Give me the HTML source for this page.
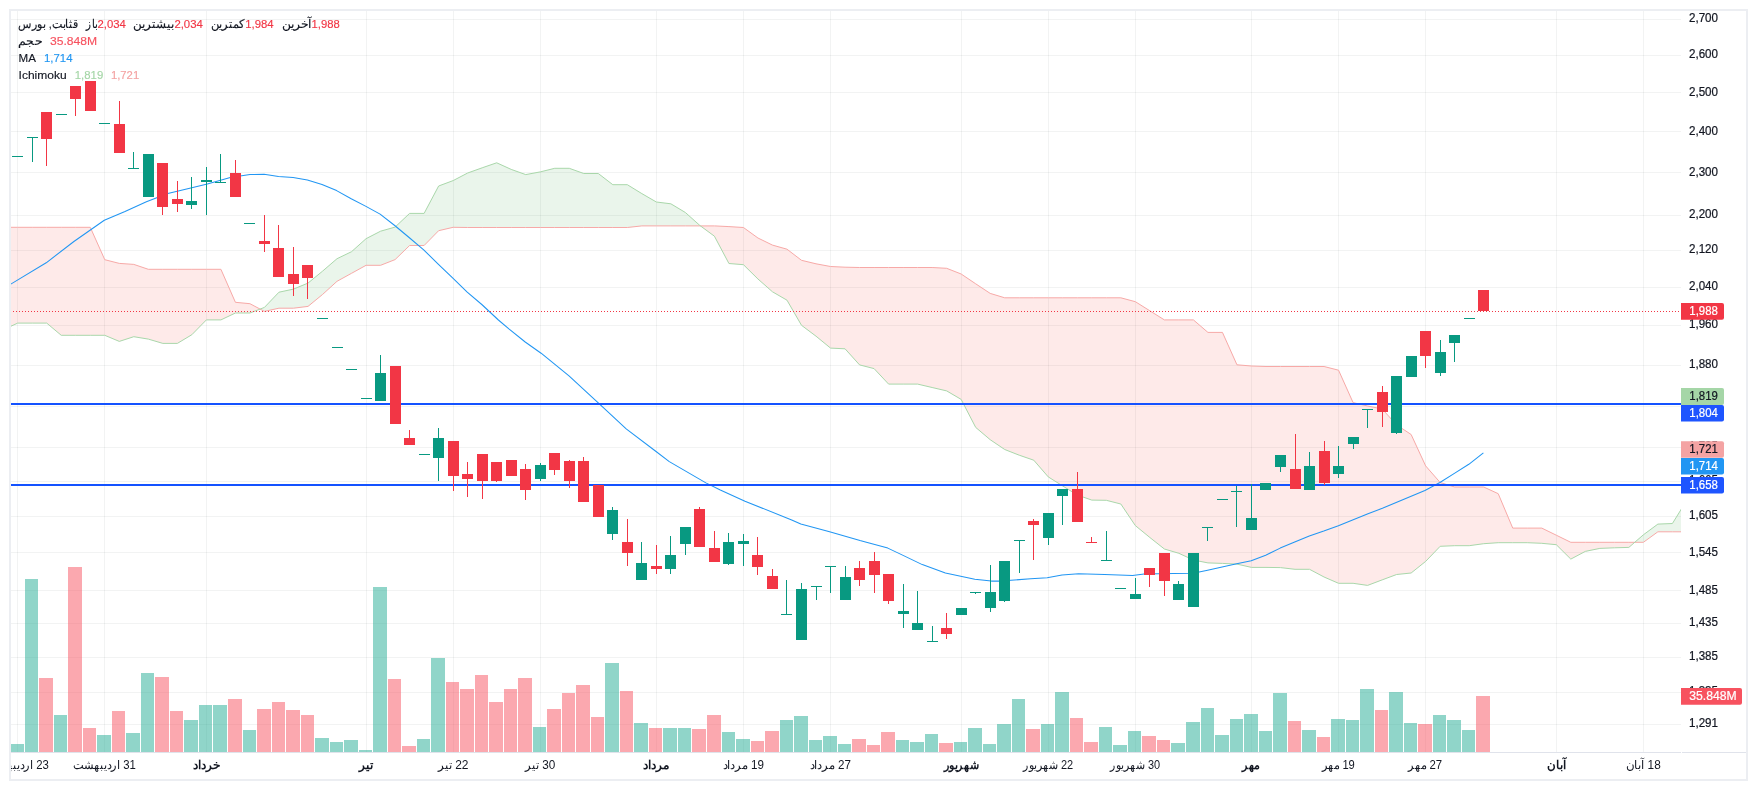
<!DOCTYPE html><html><head><meta charset="utf-8"><title>chart</title><style>
html,body{margin:0;padding:0;background:#fff;width:1757px;height:790px;overflow:hidden}
svg{display:block;position:absolute;left:0;top:0;will-change:transform}
.t{font-family:"Liberation Sans",sans-serif;font-size:12px;fill:#131722} .b{stroke-width:0.22px}
</style></head><body>
<svg width="1757" height="790" viewBox="0 0 1757 790">
<defs><clipPath id="pane"><rect x="11" y="11" width="1670" height="741"/></clipPath></defs>
<rect x="0" y="0" width="1757" height="790" fill="#fff"/>
<g fill="rgba(42,46,57,0.06)" shape-rendering="crispEdges"><rect x="11" y="19" width="1670" height="1"/><rect x="11" y="55" width="1670" height="1"/><rect x="11" y="92" width="1670" height="1"/><rect x="11" y="131" width="1670" height="1"/><rect x="11" y="172" width="1670" height="1"/><rect x="11" y="215" width="1670" height="1"/><rect x="11" y="250" width="1670" height="1"/><rect x="11" y="287" width="1670" height="1"/><rect x="11" y="325" width="1670" height="1"/><rect x="11" y="365" width="1670" height="1"/><rect x="11" y="406" width="1670" height="1"/><rect x="11" y="447" width="1670" height="1"/><rect x="11" y="481" width="1670" height="1"/><rect x="11" y="516" width="1670" height="1"/><rect x="11" y="552" width="1670" height="1"/><rect x="11" y="590" width="1670" height="1"/><rect x="11" y="623" width="1670" height="1"/><rect x="11" y="657" width="1670" height="1"/><rect x="11" y="692" width="1670" height="1"/><rect x="11" y="724" width="1670" height="1"/><rect x="17" y="11" width="1" height="741"/><rect x="104" y="11" width="1" height="741"/><rect x="206" y="11" width="1" height="741"/><rect x="366" y="11" width="1" height="741"/><rect x="453" y="11" width="1" height="741"/><rect x="540" y="11" width="1" height="741"/><rect x="656" y="11" width="1" height="741"/><rect x="743" y="11" width="1" height="741"/><rect x="830" y="11" width="1" height="741"/><rect x="961" y="11" width="1" height="741"/><rect x="1048" y="11" width="1" height="741"/><rect x="1135" y="11" width="1" height="741"/><rect x="1251" y="11" width="1" height="741"/><rect x="1338" y="11" width="1" height="741"/><rect x="1425" y="11" width="1" height="741"/><rect x="1556" y="11" width="1" height="741"/><rect x="1643" y="11" width="1" height="741"/></g>
<g clip-path="url(#pane)">
<g shape-rendering="crispEdges"><rect x="10" y="744" width="14" height="8" fill="rgba(34,171,148,0.5)"/><rect x="25" y="579" width="13" height="173" fill="rgba(34,171,148,0.5)"/><rect x="39" y="678" width="14" height="74" fill="rgba(247,82,95,0.5)"/><rect x="54" y="715" width="13" height="37" fill="rgba(34,171,148,0.5)"/><rect x="68" y="567" width="14" height="185" fill="rgba(247,82,95,0.5)"/><rect x="83" y="728" width="13" height="24" fill="rgba(247,82,95,0.5)"/><rect x="97" y="735" width="14" height="17" fill="rgba(34,171,148,0.5)"/><rect x="112" y="711" width="13" height="41" fill="rgba(247,82,95,0.5)"/><rect x="126" y="733" width="14" height="19" fill="rgba(34,171,148,0.5)"/><rect x="141" y="673" width="13" height="79" fill="rgba(34,171,148,0.5)"/><rect x="155" y="677" width="14" height="75" fill="rgba(247,82,95,0.5)"/><rect x="170" y="711" width="13" height="41" fill="rgba(247,82,95,0.5)"/><rect x="184" y="720" width="14" height="32" fill="rgba(34,171,148,0.5)"/><rect x="199" y="705" width="13" height="47" fill="rgba(34,171,148,0.5)"/><rect x="213" y="705" width="14" height="47" fill="rgba(34,171,148,0.5)"/><rect x="228" y="699" width="14" height="53" fill="rgba(247,82,95,0.5)"/><rect x="243" y="730" width="13" height="22" fill="rgba(34,171,148,0.5)"/><rect x="257" y="709" width="14" height="43" fill="rgba(247,82,95,0.5)"/><rect x="272" y="702" width="13" height="50" fill="rgba(247,82,95,0.5)"/><rect x="286" y="710" width="14" height="42" fill="rgba(247,82,95,0.5)"/><rect x="301" y="715" width="13" height="37" fill="rgba(247,82,95,0.5)"/><rect x="315" y="738" width="14" height="14" fill="rgba(34,171,148,0.5)"/><rect x="330" y="742" width="13" height="10" fill="rgba(34,171,148,0.5)"/><rect x="344" y="740" width="14" height="12" fill="rgba(34,171,148,0.5)"/><rect x="359" y="750" width="13" height="2" fill="rgba(34,171,148,0.5)"/><rect x="373" y="587" width="14" height="165" fill="rgba(34,171,148,0.5)"/><rect x="388" y="679" width="13" height="73" fill="rgba(247,82,95,0.5)"/><rect x="402" y="746" width="14" height="6" fill="rgba(247,82,95,0.5)"/><rect x="417" y="739" width="13" height="13" fill="rgba(34,171,148,0.5)"/><rect x="431" y="658" width="14" height="94" fill="rgba(34,171,148,0.5)"/><rect x="446" y="682" width="13" height="70" fill="rgba(247,82,95,0.5)"/><rect x="460" y="689" width="14" height="63" fill="rgba(247,82,95,0.5)"/><rect x="475" y="675" width="13" height="77" fill="rgba(247,82,95,0.5)"/><rect x="489" y="702" width="14" height="50" fill="rgba(247,82,95,0.5)"/><rect x="504" y="689" width="13" height="63" fill="rgba(247,82,95,0.5)"/><rect x="518" y="678" width="14" height="74" fill="rgba(247,82,95,0.5)"/><rect x="533" y="727" width="13" height="25" fill="rgba(34,171,148,0.5)"/><rect x="547" y="709" width="14" height="43" fill="rgba(247,82,95,0.5)"/><rect x="562" y="693" width="13" height="59" fill="rgba(247,82,95,0.5)"/><rect x="576" y="685" width="14" height="67" fill="rgba(247,82,95,0.5)"/><rect x="591" y="717" width="13" height="35" fill="rgba(247,82,95,0.5)"/><rect x="605" y="663" width="14" height="89" fill="rgba(34,171,148,0.5)"/><rect x="620" y="691" width="13" height="61" fill="rgba(247,82,95,0.5)"/><rect x="634" y="723" width="14" height="29" fill="rgba(34,171,148,0.5)"/><rect x="649" y="728" width="13" height="24" fill="rgba(247,82,95,0.5)"/><rect x="663" y="728" width="14" height="24" fill="rgba(34,171,148,0.5)"/><rect x="678" y="728" width="13" height="24" fill="rgba(34,171,148,0.5)"/><rect x="692" y="729" width="14" height="23" fill="rgba(247,82,95,0.5)"/><rect x="707" y="715" width="14" height="37" fill="rgba(247,82,95,0.5)"/><rect x="722" y="732" width="13" height="20" fill="rgba(34,171,148,0.5)"/><rect x="736" y="739" width="14" height="13" fill="rgba(34,171,148,0.5)"/><rect x="751" y="741" width="13" height="11" fill="rgba(247,82,95,0.5)"/><rect x="765" y="731" width="14" height="21" fill="rgba(247,82,95,0.5)"/><rect x="780" y="720" width="13" height="32" fill="rgba(34,171,148,0.5)"/><rect x="794" y="716" width="14" height="36" fill="rgba(34,171,148,0.5)"/><rect x="809" y="740" width="13" height="12" fill="rgba(34,171,148,0.5)"/><rect x="823" y="736" width="14" height="16" fill="rgba(34,171,148,0.5)"/><rect x="838" y="744" width="13" height="8" fill="rgba(34,171,148,0.5)"/><rect x="852" y="739" width="14" height="13" fill="rgba(247,82,95,0.5)"/><rect x="867" y="745" width="13" height="7" fill="rgba(247,82,95,0.5)"/><rect x="881" y="732" width="14" height="20" fill="rgba(247,82,95,0.5)"/><rect x="896" y="740" width="13" height="12" fill="rgba(34,171,148,0.5)"/><rect x="910" y="742" width="14" height="10" fill="rgba(34,171,148,0.5)"/><rect x="925" y="734" width="13" height="18" fill="rgba(34,171,148,0.5)"/><rect x="939" y="743" width="14" height="9" fill="rgba(247,82,95,0.5)"/><rect x="954" y="742" width="13" height="10" fill="rgba(34,171,148,0.5)"/><rect x="968" y="728" width="14" height="24" fill="rgba(34,171,148,0.5)"/><rect x="983" y="744" width="13" height="8" fill="rgba(34,171,148,0.5)"/><rect x="997" y="724" width="14" height="28" fill="rgba(34,171,148,0.5)"/><rect x="1012" y="699" width="13" height="53" fill="rgba(34,171,148,0.5)"/><rect x="1026" y="729" width="14" height="23" fill="rgba(247,82,95,0.5)"/><rect x="1041" y="724" width="13" height="28" fill="rgba(34,171,148,0.5)"/><rect x="1055" y="692" width="14" height="60" fill="rgba(34,171,148,0.5)"/><rect x="1070" y="718" width="13" height="34" fill="rgba(247,82,95,0.5)"/><rect x="1084" y="742" width="14" height="10" fill="rgba(247,82,95,0.5)"/><rect x="1099" y="727" width="13" height="25" fill="rgba(34,171,148,0.5)"/><rect x="1113" y="745" width="14" height="7" fill="rgba(34,171,148,0.5)"/><rect x="1128" y="731" width="13" height="21" fill="rgba(34,171,148,0.5)"/><rect x="1142" y="736" width="14" height="16" fill="rgba(247,82,95,0.5)"/><rect x="1157" y="740" width="13" height="12" fill="rgba(247,82,95,0.5)"/><rect x="1171" y="743" width="14" height="9" fill="rgba(34,171,148,0.5)"/><rect x="1186" y="722" width="14" height="30" fill="rgba(34,171,148,0.5)"/><rect x="1201" y="708" width="13" height="44" fill="rgba(34,171,148,0.5)"/><rect x="1215" y="735" width="14" height="17" fill="rgba(34,171,148,0.5)"/><rect x="1230" y="719" width="13" height="33" fill="rgba(34,171,148,0.5)"/><rect x="1244" y="714" width="14" height="38" fill="rgba(34,171,148,0.5)"/><rect x="1259" y="731" width="13" height="21" fill="rgba(34,171,148,0.5)"/><rect x="1273" y="693" width="14" height="59" fill="rgba(34,171,148,0.5)"/><rect x="1288" y="721" width="13" height="31" fill="rgba(247,82,95,0.5)"/><rect x="1302" y="730" width="14" height="22" fill="rgba(34,171,148,0.5)"/><rect x="1317" y="737" width="13" height="15" fill="rgba(247,82,95,0.5)"/><rect x="1331" y="719" width="14" height="33" fill="rgba(34,171,148,0.5)"/><rect x="1346" y="720" width="13" height="32" fill="rgba(34,171,148,0.5)"/><rect x="1360" y="689" width="14" height="63" fill="rgba(34,171,148,0.5)"/><rect x="1375" y="710" width="13" height="42" fill="rgba(247,82,95,0.5)"/><rect x="1389" y="692" width="14" height="60" fill="rgba(34,171,148,0.5)"/><rect x="1404" y="723" width="13" height="29" fill="rgba(34,171,148,0.5)"/><rect x="1418" y="724" width="14" height="28" fill="rgba(247,82,95,0.5)"/><rect x="1433" y="715" width="13" height="37" fill="rgba(34,171,148,0.5)"/><rect x="1447" y="720" width="14" height="32" fill="rgba(34,171,148,0.5)"/><rect x="1462" y="730" width="13" height="22" fill="rgba(34,171,148,0.5)"/><rect x="1476" y="696" width="14" height="56" fill="rgba(247,82,95,0.5)"/></g>
<path d="M2.80,330.00 L17.70,323.10 L32.21,323.10 L46.73,323.10 L61.24,335.30 L75.75,335.30 L90.27,335.30 L104.78,335.30 L119.30,341.40 L133.81,336.70 L148.33,339.10 L162.84,343.40 L177.36,343.40 L191.88,334.70 L206.39,319.90 L220.91,319.90 L235.42,313.00 L249.94,313.00 L260.08,309.08 L260.08,309.08 L249.94,303.70 L235.42,302.30 L220.91,269.30 L206.39,269.30 L191.88,269.30 L177.36,269.30 L162.84,269.30 L148.33,269.30 L133.81,264.40 L119.30,263.40 L104.78,259.70 L90.27,227.30 L75.75,227.30 L61.24,227.30 L46.73,227.30 L32.21,227.30 L17.70,227.30 L2.80,227.30Z" fill="rgba(244,67,54,0.11)"/>
<path d="M260.08,309.08 L264.45,307.40 L278.96,292.20 L293.48,289.10 L308.00,283.10 L322.51,271.20 L337.02,258.70 L351.54,251.70 L366.06,238.70 L380.57,231.20 L395.08,227.10 L409.60,213.40 L424.12,213.40 L438.63,186.00 L453.14,180.60 L467.66,173.00 L482.18,167.80 L496.69,162.80 L511.20,169.40 L525.72,174.60 L540.24,171.90 L554.75,168.30 L569.27,168.30 L583.78,173.50 L598.30,173.50 L612.81,184.70 L627.33,184.70 L641.84,193.60 L656.36,202.00 L670.87,203.80 L685.39,212.50 L699.90,225.50 L700.44,225.90 L700.44,225.90 L699.90,225.90 L685.39,225.90 L670.87,225.90 L656.36,225.90 L641.84,225.90 L627.33,227.50 L612.81,227.50 L598.30,227.50 L583.78,227.50 L569.27,227.50 L554.75,227.50 L540.24,227.50 L525.72,227.50 L511.20,227.50 L496.69,227.50 L482.18,227.50 L467.66,227.50 L453.14,227.30 L438.63,230.70 L424.12,245.50 L409.60,245.50 L395.08,259.60 L380.57,265.30 L366.06,265.30 L351.54,273.30 L337.02,281.30 L322.51,294.50 L308.00,306.40 L293.48,308.20 L278.96,308.20 L264.45,311.40 L260.08,309.08Z" fill="rgba(67,160,71,0.11)"/>
<path d="M700.44,225.90 L714.42,236.20 L728.93,263.50 L743.45,264.70 L757.96,279.00 L772.48,291.80 L786.99,300.20 L801.51,325.30 L816.02,336.20 L830.54,348.10 L845.05,348.80 L859.57,364.90 L874.08,368.60 L888.60,384.10 L903.11,384.10 L917.63,384.10 L932.14,387.50 L946.66,390.90 L961.17,399.40 L975.69,427.40 L990.20,439.70 L1004.72,449.50 L1019.23,455.20 L1033.75,460.20 L1048.26,476.90 L1062.78,486.00 L1077.29,495.00 L1091.81,500.10 L1106.32,500.30 L1120.84,504.00 L1135.35,525.60 L1149.87,537.50 L1164.38,549.00 L1178.89,553.30 L1193.41,560.00 L1207.93,562.90 L1222.44,563.40 L1236.96,564.10 L1251.47,567.40 L1265.99,567.40 L1280.50,567.60 L1295.02,569.30 L1309.53,569.30 L1324.05,577.00 L1338.56,583.30 L1353.08,583.30 L1367.59,585.40 L1382.11,579.90 L1396.62,574.50 L1411.13,573.00 L1425.65,561.40 L1440.17,546.30 L1454.68,545.70 L1469.20,545.70 L1483.71,543.70 L1498.23,542.70 L1512.74,542.70 L1527.26,542.70 L1541.77,543.30 L1556.29,544.70 L1570.80,559.10 L1585.32,551.40 L1599.83,548.40 L1614.35,547.80 L1628.86,547.40 L1634.74,542.30 L1634.74,542.30 L1628.86,542.30 L1614.35,542.30 L1599.83,542.30 L1585.32,542.30 L1570.80,542.30 L1556.29,535.20 L1541.77,528.10 L1527.26,528.10 L1512.74,528.10 L1498.23,493.70 L1483.71,487.00 L1469.20,487.00 L1454.68,487.00 L1440.17,482.50 L1425.65,465.90 L1411.13,434.50 L1396.62,424.90 L1382.11,408.90 L1367.59,406.00 L1353.08,402.60 L1338.56,370.20 L1324.05,366.50 L1309.53,366.50 L1295.02,366.50 L1280.50,366.50 L1265.99,366.50 L1251.47,366.00 L1236.96,364.80 L1222.44,332.40 L1207.93,332.40 L1193.41,319.90 L1178.89,319.90 L1164.38,319.90 L1149.87,310.80 L1135.35,301.70 L1120.84,297.80 L1106.32,297.80 L1091.81,297.80 L1077.29,297.80 L1062.78,297.80 L1048.26,297.80 L1033.75,297.80 L1019.23,297.80 L1004.72,297.80 L990.20,293.40 L975.69,283.80 L961.17,274.00 L946.66,268.30 L932.14,267.50 L917.63,267.50 L903.11,267.50 L888.60,267.50 L874.08,267.50 L859.57,267.50 L845.05,267.20 L830.54,266.50 L816.02,263.80 L801.51,260.30 L786.99,249.20 L772.48,245.10 L757.96,238.00 L743.45,227.50 L728.93,226.60 L714.42,225.90 L700.44,225.90Z" fill="rgba(244,67,54,0.11)"/>
<path d="M1634.74,542.30 L1643.38,534.80 L1657.89,524.10 L1672.41,523.50 L1686.92,500.00 L1686.92,531.80 L1672.41,531.80 L1657.89,531.80 L1643.38,542.30 L1634.74,542.30Z" fill="rgba(67,160,71,0.11)"/>
<path d="M2.80,227.30 L17.70,227.30 L32.21,227.30 L46.73,227.30 L61.24,227.30 L75.75,227.30 L90.27,227.30 L104.78,259.70 L119.30,263.40 L133.81,264.40 L148.33,269.30 L162.84,269.30 L177.36,269.30 L191.88,269.30 L206.39,269.30 L220.91,269.30 L235.42,302.30 L249.94,303.70 L264.45,311.40 L278.96,308.20 L293.48,308.20 L308.00,306.40 L322.51,294.50 L337.02,281.30 L351.54,273.30 L366.06,265.30 L380.57,265.30 L395.08,259.60 L409.60,245.50 L424.12,245.50 L438.63,230.70 L453.14,227.30 L467.66,227.50 L482.18,227.50 L496.69,227.50 L511.20,227.50 L525.72,227.50 L540.24,227.50 L554.75,227.50 L569.27,227.50 L583.78,227.50 L598.30,227.50 L612.81,227.50 L627.33,227.50 L641.84,225.90 L656.36,225.90 L670.87,225.90 L685.39,225.90 L699.90,225.90 L714.42,225.90 L728.93,226.60 L743.45,227.50 L757.96,238.00 L772.48,245.10 L786.99,249.20 L801.51,260.30 L816.02,263.80 L830.54,266.50 L845.05,267.20 L859.57,267.50 L874.08,267.50 L888.60,267.50 L903.11,267.50 L917.63,267.50 L932.14,267.50 L946.66,268.30 L961.17,274.00 L975.69,283.80 L990.20,293.40 L1004.72,297.80 L1019.23,297.80 L1033.75,297.80 L1048.26,297.80 L1062.78,297.80 L1077.29,297.80 L1091.81,297.80 L1106.32,297.80 L1120.84,297.80 L1135.35,301.70 L1149.87,310.80 L1164.38,319.90 L1178.89,319.90 L1193.41,319.90 L1207.93,332.40 L1222.44,332.40 L1236.96,364.80 L1251.47,366.00 L1265.99,366.50 L1280.50,366.50 L1295.02,366.50 L1309.53,366.50 L1324.05,366.50 L1338.56,370.20 L1353.08,402.60 L1367.59,406.00 L1382.11,408.90 L1396.62,424.90 L1411.13,434.50 L1425.65,465.90 L1440.17,482.50 L1454.68,487.00 L1469.20,487.00 L1483.71,487.00 L1498.23,493.70 L1512.74,528.10 L1527.26,528.10 L1541.77,528.10 L1556.29,535.20 L1570.80,542.30 L1585.32,542.30 L1599.83,542.30 L1614.35,542.30 L1628.86,542.30 L1643.38,542.30 L1657.89,531.80 L1672.41,531.80 L1686.92,531.80" fill="none" stroke="#f7a9a7" stroke-width="1" stroke-linejoin="round"/>
<path d="M2.80,330.00 L17.70,323.10 L32.21,323.10 L46.73,323.10 L61.24,335.30 L75.75,335.30 L90.27,335.30 L104.78,335.30 L119.30,341.40 L133.81,336.70 L148.33,339.10 L162.84,343.40 L177.36,343.40 L191.88,334.70 L206.39,319.90 L220.91,319.90 L235.42,313.00 L249.94,313.00 L264.45,307.40 L278.96,292.20 L293.48,289.10 L308.00,283.10 L322.51,271.20 L337.02,258.70 L351.54,251.70 L366.06,238.70 L380.57,231.20 L395.08,227.10 L409.60,213.40 L424.12,213.40 L438.63,186.00 L453.14,180.60 L467.66,173.00 L482.18,167.80 L496.69,162.80 L511.20,169.40 L525.72,174.60 L540.24,171.90 L554.75,168.30 L569.27,168.30 L583.78,173.50 L598.30,173.50 L612.81,184.70 L627.33,184.70 L641.84,193.60 L656.36,202.00 L670.87,203.80 L685.39,212.50 L699.90,225.50 L714.42,236.20 L728.93,263.50 L743.45,264.70 L757.96,279.00 L772.48,291.80 L786.99,300.20 L801.51,325.30 L816.02,336.20 L830.54,348.10 L845.05,348.80 L859.57,364.90 L874.08,368.60 L888.60,384.10 L903.11,384.10 L917.63,384.10 L932.14,387.50 L946.66,390.90 L961.17,399.40 L975.69,427.40 L990.20,439.70 L1004.72,449.50 L1019.23,455.20 L1033.75,460.20 L1048.26,476.90 L1062.78,486.00 L1077.29,495.00 L1091.81,500.10 L1106.32,500.30 L1120.84,504.00 L1135.35,525.60 L1149.87,537.50 L1164.38,549.00 L1178.89,553.30 L1193.41,560.00 L1207.93,562.90 L1222.44,563.40 L1236.96,564.10 L1251.47,567.40 L1265.99,567.40 L1280.50,567.60 L1295.02,569.30 L1309.53,569.30 L1324.05,577.00 L1338.56,583.30 L1353.08,583.30 L1367.59,585.40 L1382.11,579.90 L1396.62,574.50 L1411.13,573.00 L1425.65,561.40 L1440.17,546.30 L1454.68,545.70 L1469.20,545.70 L1483.71,543.70 L1498.23,542.70 L1512.74,542.70 L1527.26,542.70 L1541.77,543.30 L1556.29,544.70 L1570.80,559.10 L1585.32,551.40 L1599.83,548.40 L1614.35,547.80 L1628.86,547.40 L1643.38,534.80 L1657.89,524.10 L1672.41,523.50 L1686.92,500.00" fill="none" stroke="#a9d7aa" stroke-width="1" stroke-linejoin="round"/>
<path d="M10.00,284.60 L46.20,262.80 L73.90,241.50 L104.30,220.30 L125.00,211.60 L146.40,201.70 L167.80,193.50 L190.80,188.00 L207.30,184.10 L230.30,177.50 L250.00,174.60 L264.10,174.20 L278.50,176.50 L293.10,177.60 L307.40,179.90 L322.00,184.40 L336.60,190.60 L351.20,198.80 L365.50,206.10 L380.10,214.10 L394.70,225.50 L409.10,237.50 L423.70,249.80 L438.20,264.20 L452.60,277.90 L467.20,292.20 L481.80,304.50 L498.40,320.00 L509.20,329.20 L525.20,342.00 L541.10,353.20 L569.00,375.80 L599.60,404.20 L626.20,428.90 L655.40,451.00 L669.30,461.60 L705.90,482.90 L720.30,490.00 L745.00,501.20 L791.70,520.00 L800.80,524.10 L828.70,531.50 L860.00,540.60 L866.40,542.30 L887.80,548.10 L901.00,554.40 L922.30,564.60 L945.40,573.10 L974.80,579.20 L991.30,581.10 L1001.10,581.10 L1011.00,580.30 L1030.80,578.70 L1047.20,577.80 L1062.00,574.90 L1078.50,573.70 L1104.60,574.40 L1132.60,575.60 L1144.10,573.90 L1173.70,573.40 L1193.10,573.30 L1207.60,570.30 L1222.10,567.10 L1236.70,563.70 L1251.20,560.70 L1265.70,555.20 L1280.20,548.10 L1294.70,541.90 L1309.30,536.00 L1323.80,531.10 L1338.40,525.80 L1368.00,513.70 L1382.40,508.30 L1424.90,490.50 L1439.90,482.50 L1454.40,473.40 L1468.80,464.30 L1483.40,452.80" fill="none" stroke="#2196f3" stroke-width="1.05" stroke-linejoin="round"/>
</g>
<g shape-rendering="crispEdges" fill="#1452ff">
<rect x="11" y="403" width="1670" height="2"/>
<rect x="11" y="484" width="1670" height="2"/>
</g>
<g shape-rendering="crispEdges"><rect x="12" y="156" width="11" height="1" fill="#089981"/><rect x="27" y="137" width="11" height="1" fill="#089981"/><rect x="32" y="138" width="1" height="24" fill="#089981"/><rect x="41" y="112" width="11" height="27" fill="#f23645"/><rect x="46" y="139" width="1" height="27" fill="#f23645"/><rect x="56" y="114" width="11" height="1" fill="#089981"/><rect x="70" y="86" width="11" height="13" fill="#f23645"/><rect x="75" y="99" width="1" height="17" fill="#f23645"/><rect x="85" y="81" width="11" height="30" fill="#f23645"/><rect x="99" y="123" width="11" height="1" fill="#089981"/><rect x="114" y="124" width="11" height="29" fill="#f23645"/><rect x="119" y="101" width="1" height="23" fill="#f23645"/><rect x="128" y="168" width="11" height="1" fill="#089981"/><rect x="133" y="152" width="1" height="16" fill="#089981"/><rect x="143" y="154" width="11" height="43" fill="#089981"/><rect x="157" y="163" width="11" height="44" fill="#f23645"/><rect x="162" y="207" width="1" height="8" fill="#f23645"/><rect x="172" y="199" width="11" height="5" fill="#f23645"/><rect x="177" y="181" width="1" height="18" fill="#f23645"/><rect x="177" y="204" width="1" height="8" fill="#f23645"/><rect x="186" y="201" width="11" height="4" fill="#089981"/><rect x="191" y="177" width="1" height="24" fill="#089981"/><rect x="191" y="205" width="1" height="4" fill="#089981"/><rect x="201" y="180" width="11" height="2" fill="#089981"/><rect x="206" y="167" width="1" height="13" fill="#089981"/><rect x="206" y="182" width="1" height="33" fill="#089981"/><rect x="215" y="182" width="11" height="1" fill="#089981"/><rect x="220" y="154" width="1" height="28" fill="#089981"/><rect x="230" y="173" width="11" height="24" fill="#f23645"/><rect x="235" y="160" width="1" height="13" fill="#f23645"/><rect x="244" y="223" width="11" height="1" fill="#089981"/><rect x="259" y="241" width="11" height="3" fill="#f23645"/><rect x="264" y="215" width="1" height="26" fill="#f23645"/><rect x="264" y="244" width="1" height="8" fill="#f23645"/><rect x="273" y="248" width="11" height="29" fill="#f23645"/><rect x="278" y="225" width="1" height="23" fill="#f23645"/><rect x="288" y="274" width="11" height="10" fill="#f23645"/><rect x="293" y="247" width="1" height="27" fill="#f23645"/><rect x="293" y="284" width="1" height="12" fill="#f23645"/><rect x="302" y="265" width="11" height="13" fill="#f23645"/><rect x="307" y="278" width="1" height="21" fill="#f23645"/><rect x="317" y="318" width="11" height="1" fill="#089981"/><rect x="332" y="347" width="11" height="1" fill="#089981"/><rect x="346" y="369" width="11" height="1" fill="#089981"/><rect x="361" y="398" width="11" height="1" fill="#089981"/><rect x="375" y="373" width="11" height="28" fill="#089981"/><rect x="380" y="355" width="1" height="18" fill="#089981"/><rect x="390" y="366" width="11" height="58" fill="#f23645"/><rect x="404" y="438" width="11" height="7" fill="#f23645"/><rect x="409" y="430" width="1" height="8" fill="#f23645"/><rect x="419" y="454" width="11" height="1" fill="#089981"/><rect x="433" y="438" width="11" height="20" fill="#089981"/><rect x="438" y="428" width="1" height="10" fill="#089981"/><rect x="438" y="458" width="1" height="23" fill="#089981"/><rect x="448" y="441" width="11" height="35" fill="#f23645"/><rect x="453" y="476" width="1" height="15" fill="#f23645"/><rect x="462" y="474" width="11" height="5" fill="#f23645"/><rect x="467" y="462" width="1" height="12" fill="#f23645"/><rect x="467" y="479" width="1" height="18" fill="#f23645"/><rect x="477" y="454" width="11" height="27" fill="#f23645"/><rect x="482" y="481" width="1" height="18" fill="#f23645"/><rect x="491" y="462" width="11" height="19" fill="#f23645"/><rect x="496" y="481" width="1" height="1" fill="#f23645"/><rect x="506" y="460" width="11" height="16" fill="#f23645"/><rect x="520" y="469" width="11" height="21" fill="#f23645"/><rect x="525" y="464" width="1" height="5" fill="#f23645"/><rect x="525" y="490" width="1" height="10" fill="#f23645"/><rect x="535" y="465" width="11" height="14" fill="#089981"/><rect x="540" y="463" width="1" height="2" fill="#089981"/><rect x="540" y="479" width="1" height="2" fill="#089981"/><rect x="549" y="453" width="11" height="17" fill="#f23645"/><rect x="554" y="470" width="1" height="5" fill="#f23645"/><rect x="564" y="461" width="11" height="20" fill="#f23645"/><rect x="569" y="460" width="1" height="1" fill="#f23645"/><rect x="569" y="481" width="1" height="7" fill="#f23645"/><rect x="578" y="461" width="11" height="41" fill="#f23645"/><rect x="583" y="457" width="1" height="4" fill="#f23645"/><rect x="593" y="485" width="11" height="32" fill="#f23645"/><rect x="607" y="510" width="11" height="24" fill="#089981"/><rect x="612" y="507" width="1" height="3" fill="#089981"/><rect x="612" y="534" width="1" height="6" fill="#089981"/><rect x="622" y="542" width="11" height="11" fill="#f23645"/><rect x="627" y="519" width="1" height="23" fill="#f23645"/><rect x="627" y="553" width="1" height="13" fill="#f23645"/><rect x="636" y="563" width="11" height="17" fill="#089981"/><rect x="641" y="542" width="1" height="21" fill="#089981"/><rect x="651" y="566" width="11" height="3" fill="#f23645"/><rect x="656" y="545" width="1" height="21" fill="#f23645"/><rect x="656" y="569" width="1" height="5" fill="#f23645"/><rect x="665" y="555" width="11" height="14" fill="#089981"/><rect x="670" y="536" width="1" height="19" fill="#089981"/><rect x="670" y="569" width="1" height="5" fill="#089981"/><rect x="680" y="527" width="11" height="17" fill="#089981"/><rect x="685" y="544" width="1" height="11" fill="#089981"/><rect x="694" y="509" width="11" height="38" fill="#f23645"/><rect x="699" y="507" width="1" height="2" fill="#f23645"/><rect x="709" y="548" width="11" height="14" fill="#f23645"/><rect x="714" y="531" width="1" height="17" fill="#f23645"/><rect x="723" y="542" width="11" height="22" fill="#089981"/><rect x="728" y="533" width="1" height="9" fill="#089981"/><rect x="728" y="564" width="1" height="1" fill="#089981"/><rect x="738" y="541" width="11" height="3" fill="#089981"/><rect x="743" y="534" width="1" height="7" fill="#089981"/><rect x="743" y="544" width="1" height="22" fill="#089981"/><rect x="752" y="555" width="11" height="12" fill="#f23645"/><rect x="757" y="537" width="1" height="18" fill="#f23645"/><rect x="757" y="567" width="1" height="8" fill="#f23645"/><rect x="767" y="576" width="11" height="13" fill="#f23645"/><rect x="772" y="569" width="1" height="7" fill="#f23645"/><rect x="781" y="614" width="11" height="1" fill="#089981"/><rect x="786" y="580" width="1" height="34" fill="#089981"/><rect x="796" y="589" width="11" height="51" fill="#089981"/><rect x="801" y="583" width="1" height="6" fill="#089981"/><rect x="811" y="586" width="11" height="1" fill="#089981"/><rect x="816" y="587" width="1" height="13" fill="#089981"/><rect x="825" y="566" width="11" height="1" fill="#089981"/><rect x="830" y="567" width="1" height="26" fill="#089981"/><rect x="840" y="577" width="11" height="23" fill="#089981"/><rect x="845" y="566" width="1" height="11" fill="#089981"/><rect x="854" y="568" width="11" height="12" fill="#f23645"/><rect x="859" y="561" width="1" height="7" fill="#f23645"/><rect x="859" y="580" width="1" height="6" fill="#f23645"/><rect x="869" y="561" width="11" height="14" fill="#f23645"/><rect x="874" y="552" width="1" height="9" fill="#f23645"/><rect x="874" y="575" width="1" height="18" fill="#f23645"/><rect x="883" y="574" width="11" height="27" fill="#f23645"/><rect x="888" y="601" width="1" height="3" fill="#f23645"/><rect x="898" y="611" width="11" height="3" fill="#089981"/><rect x="903" y="584" width="1" height="27" fill="#089981"/><rect x="903" y="614" width="1" height="14" fill="#089981"/><rect x="912" y="623" width="11" height="7" fill="#089981"/><rect x="917" y="591" width="1" height="32" fill="#089981"/><rect x="927" y="641" width="11" height="1" fill="#089981"/><rect x="932" y="626" width="1" height="15" fill="#089981"/><rect x="941" y="628" width="11" height="6" fill="#f23645"/><rect x="946" y="613" width="1" height="15" fill="#f23645"/><rect x="946" y="634" width="1" height="5" fill="#f23645"/><rect x="956" y="608" width="11" height="7" fill="#089981"/><rect x="970" y="592" width="11" height="1" fill="#089981"/><rect x="975" y="593" width="1" height="1" fill="#089981"/><rect x="985" y="592" width="11" height="16" fill="#089981"/><rect x="990" y="565" width="1" height="27" fill="#089981"/><rect x="990" y="608" width="1" height="4" fill="#089981"/><rect x="999" y="561" width="11" height="40" fill="#089981"/><rect x="1004" y="601" width="1" height="1" fill="#089981"/><rect x="1014" y="540" width="11" height="1" fill="#089981"/><rect x="1019" y="541" width="1" height="32" fill="#089981"/><rect x="1028" y="521" width="11" height="4" fill="#f23645"/><rect x="1033" y="519" width="1" height="2" fill="#f23645"/><rect x="1033" y="525" width="1" height="35" fill="#f23645"/><rect x="1043" y="513" width="11" height="25" fill="#089981"/><rect x="1048" y="538" width="1" height="7" fill="#089981"/><rect x="1057" y="489" width="11" height="7" fill="#089981"/><rect x="1062" y="496" width="1" height="29" fill="#089981"/><rect x="1072" y="489" width="11" height="33" fill="#f23645"/><rect x="1077" y="472" width="1" height="17" fill="#f23645"/><rect x="1086" y="542" width="11" height="1" fill="#f23645"/><rect x="1091" y="537" width="1" height="5" fill="#f23645"/><rect x="1101" y="560" width="11" height="1" fill="#089981"/><rect x="1106" y="531" width="1" height="29" fill="#089981"/><rect x="1115" y="588" width="11" height="1" fill="#089981"/><rect x="1130" y="594" width="11" height="5" fill="#089981"/><rect x="1135" y="578" width="1" height="16" fill="#089981"/><rect x="1144" y="568" width="11" height="7" fill="#f23645"/><rect x="1149" y="575" width="1" height="12" fill="#f23645"/><rect x="1159" y="553" width="11" height="28" fill="#f23645"/><rect x="1164" y="581" width="1" height="15" fill="#f23645"/><rect x="1173" y="584" width="11" height="16" fill="#089981"/><rect x="1178" y="581" width="1" height="3" fill="#089981"/><rect x="1188" y="553" width="11" height="54" fill="#089981"/><rect x="1202" y="527" width="11" height="1" fill="#089981"/><rect x="1207" y="528" width="1" height="13" fill="#089981"/><rect x="1217" y="499" width="11" height="1" fill="#089981"/><rect x="1231" y="491" width="11" height="1" fill="#089981"/><rect x="1236" y="486" width="1" height="5" fill="#089981"/><rect x="1236" y="492" width="1" height="35" fill="#089981"/><rect x="1246" y="518" width="11" height="12" fill="#089981"/><rect x="1251" y="484" width="1" height="34" fill="#089981"/><rect x="1260" y="483" width="11" height="7" fill="#089981"/><rect x="1275" y="455" width="11" height="12" fill="#089981"/><rect x="1280" y="467" width="1" height="5" fill="#089981"/><rect x="1290" y="469" width="11" height="20" fill="#f23645"/><rect x="1295" y="434" width="1" height="35" fill="#f23645"/><rect x="1304" y="466" width="11" height="24" fill="#089981"/><rect x="1309" y="452" width="1" height="14" fill="#089981"/><rect x="1319" y="451" width="11" height="32" fill="#f23645"/><rect x="1324" y="441" width="1" height="10" fill="#f23645"/><rect x="1324" y="483" width="1" height="2" fill="#f23645"/><rect x="1333" y="466" width="11" height="8" fill="#089981"/><rect x="1338" y="446" width="1" height="20" fill="#089981"/><rect x="1338" y="474" width="1" height="4" fill="#089981"/><rect x="1348" y="437" width="11" height="7" fill="#089981"/><rect x="1353" y="444" width="1" height="5" fill="#089981"/><rect x="1362" y="409" width="11" height="1" fill="#089981"/><rect x="1367" y="410" width="1" height="18" fill="#089981"/><rect x="1377" y="392" width="11" height="20" fill="#f23645"/><rect x="1382" y="386" width="1" height="6" fill="#f23645"/><rect x="1382" y="412" width="1" height="15" fill="#f23645"/><rect x="1391" y="376" width="11" height="57" fill="#089981"/><rect x="1396" y="433" width="1" height="1" fill="#089981"/><rect x="1406" y="356" width="11" height="21" fill="#089981"/><rect x="1420" y="331" width="11" height="25" fill="#f23645"/><rect x="1425" y="356" width="1" height="12" fill="#f23645"/><rect x="1435" y="352" width="11" height="21" fill="#089981"/><rect x="1440" y="340" width="1" height="12" fill="#089981"/><rect x="1440" y="373" width="1" height="3" fill="#089981"/><rect x="1449" y="335" width="11" height="8" fill="#089981"/><rect x="1454" y="343" width="1" height="19" fill="#089981"/><rect x="1464" y="318" width="11" height="1" fill="#089981"/><rect x="1478" y="290" width="11" height="21" fill="#f23645"/><rect x="1483" y="311" width="1" height="1" fill="#f23645"/></g>
<line x1="10" y1="311.5" x2="1681" y2="311.5" stroke="#f23645" stroke-width="1" stroke-dasharray="1 2" shape-rendering="crispEdges"/>
<text class="t b" x="1689" y="22.3" style="stroke:#131722" textLength="29" lengthAdjust="spacingAndGlyphs">2,700</text><text class="t b" x="1689" y="58.4" style="stroke:#131722" textLength="29" lengthAdjust="spacingAndGlyphs">2,600</text><text class="t b" x="1689" y="95.8" style="stroke:#131722" textLength="29" lengthAdjust="spacingAndGlyphs">2,500</text><text class="t b" x="1689" y="134.9" style="stroke:#131722" textLength="29" lengthAdjust="spacingAndGlyphs">2,400</text><text class="t b" x="1689" y="175.5" style="stroke:#131722" textLength="29" lengthAdjust="spacingAndGlyphs">2,300</text><text class="t b" x="1689" y="218.0" style="stroke:#131722" textLength="29" lengthAdjust="spacingAndGlyphs">2,200</text><text class="t b" x="1689" y="253.4" style="stroke:#131722" textLength="29" lengthAdjust="spacingAndGlyphs">2,120</text><text class="t b" x="1689" y="290.2" style="stroke:#131722" textLength="29" lengthAdjust="spacingAndGlyphs">2,040</text><text class="t b" x="1689" y="328.4" style="stroke:#131722" textLength="29" lengthAdjust="spacingAndGlyphs">1,960</text><text class="t b" x="1689" y="368.2" style="stroke:#131722" textLength="29" lengthAdjust="spacingAndGlyphs">1,880</text><text class="t b" x="1689" y="409.8" style="stroke:#131722" textLength="29" lengthAdjust="spacingAndGlyphs">1,800</text><text class="t b" x="1689" y="450.4" style="stroke:#131722" textLength="29" lengthAdjust="spacingAndGlyphs">1,725</text><text class="t b" x="1689" y="484.3" style="stroke:#131722" textLength="29" lengthAdjust="spacingAndGlyphs">1,665</text><text class="t b" x="1689" y="519.3" style="stroke:#131722" textLength="29" lengthAdjust="spacingAndGlyphs">1,605</text><text class="t b" x="1689" y="555.7" style="stroke:#131722" textLength="29" lengthAdjust="spacingAndGlyphs">1,545</text><text class="t b" x="1689" y="593.6" style="stroke:#131722" textLength="29" lengthAdjust="spacingAndGlyphs">1,485</text><text class="t b" x="1689" y="626.3" style="stroke:#131722" textLength="29" lengthAdjust="spacingAndGlyphs">1,435</text><text class="t b" x="1689" y="660.2" style="stroke:#131722" textLength="29" lengthAdjust="spacingAndGlyphs">1,385</text><text class="t b" x="1689" y="695.3" style="stroke:#131722" textLength="29" lengthAdjust="spacingAndGlyphs">1,335</text><text class="t b" x="1689" y="727.4" style="stroke:#131722" textLength="29" lengthAdjust="spacingAndGlyphs">1,291</text>
<path d="M1681,303 H1722 Q1724,303 1724,305 V317.7 Q1724,319.7 1722,319.7 H1681 Z" fill="#f23645"/><text class="t b" x="1689.3" y="315.2" style="fill:#fff;stroke:#fff" textLength="28.5" lengthAdjust="spacingAndGlyphs">1,988</text>
<path d="M1681,388 H1722 Q1724,388 1724,390 V403 Q1724,405 1722,405 H1681 Z" fill="#a5d6a7"/><text class="t b" x="1689.3" y="400.4" style="fill:#131722;stroke:#131722" textLength="28.5" lengthAdjust="spacingAndGlyphs">1,819</text>
<path d="M1681,405 H1722 Q1724,405 1724,407 V419.6 Q1724,421.6 1722,421.6 H1681 Z" fill="#1e55ff"/><text class="t b" x="1689.3" y="417.2" style="fill:#fff;stroke:#fff" textLength="28.5" lengthAdjust="spacingAndGlyphs">1,804</text>
<path d="M1681,441.3 H1722 Q1724,441.3 1724,443.3 V455.8 Q1724,457.8 1722,457.8 H1681 Z" fill="#f4a3a3"/><text class="t b" x="1689.3" y="453.4" style="fill:#131722;stroke:#131722" textLength="28.5" lengthAdjust="spacingAndGlyphs">1,721</text>
<path d="M1681,458 H1722 Q1724,458 1724,460 V472.6 Q1724,474.6 1722,474.6 H1681 Z" fill="#2196f3"/><text class="t b" x="1689.3" y="470.2" style="fill:#fff;stroke:#fff" textLength="28.5" lengthAdjust="spacingAndGlyphs">1,714</text>
<path d="M1681,477 H1722 Q1724,477 1724,479 V491.5 Q1724,493.5 1722,493.5 H1681 Z" fill="#1e55ff"/><text class="t b" x="1689.3" y="489.1" style="fill:#fff;stroke:#fff" textLength="28.5" lengthAdjust="spacingAndGlyphs">1,658</text>
<path d="M1681,688 H1740 Q1742,688 1742,690 V702.8 Q1742,704.8 1740,704.8 H1681 Z" fill="#f7525f"/><text class="t b" x="1689.3" y="700.3" style="fill:#fff;stroke:#fff" textLength="47.3" lengthAdjust="spacingAndGlyphs">35.848M</text>
<rect x="11" y="752" width="1670" height="1" fill="#e0e3eb" shape-rendering="crispEdges"/>
<rect x="1682" y="752" width="64" height="1" fill="#e0e3eb" shape-rendering="crispEdges"/>
<clipPath id="tax"><rect x="11" y="753" width="1735" height="26"/></clipPath><g clip-path="url(#tax)">
<text class="t" x="17.2" y="769" text-anchor="middle" style="" direction="rtl" textLength="63.2" lengthAdjust="spacingAndGlyphs">23 اردیبهشت</text>
<text class="t" x="104.2" y="769" text-anchor="middle" style="" direction="rtl" textLength="63.2" lengthAdjust="spacingAndGlyphs">31 اردیبهشت</text>
<text class="t" x="206.2" y="769" text-anchor="middle" style="font-weight:bold;" direction="rtl" textLength="27.1" lengthAdjust="spacingAndGlyphs">خرداد</text>
<text class="t" x="366.2" y="769" text-anchor="middle" style="font-weight:bold;" direction="rtl" textLength="14.1" lengthAdjust="spacingAndGlyphs">تیر</text>
<text class="t" x="453.2" y="769" text-anchor="middle" style="" direction="rtl" textLength="30.6" lengthAdjust="spacingAndGlyphs">22 تیر</text>
<text class="t" x="540.2" y="769" text-anchor="middle" style="" direction="rtl" textLength="30" lengthAdjust="spacingAndGlyphs">30 تیر</text>
<text class="t" x="656.2" y="769" text-anchor="middle" style="font-weight:bold;" direction="rtl" textLength="26.3" lengthAdjust="spacingAndGlyphs">مرداد</text>
<text class="t" x="743.2" y="769" text-anchor="middle" style="" direction="rtl" textLength="41.3" lengthAdjust="spacingAndGlyphs">19 مرداد</text>
<text class="t" x="830.2" y="769" text-anchor="middle" style="" direction="rtl" textLength="41.3" lengthAdjust="spacingAndGlyphs">27 مرداد</text>
<text class="t" x="961.2" y="769" text-anchor="middle" style="font-weight:bold;" direction="rtl" textLength="35.1" lengthAdjust="spacingAndGlyphs">شهریور</text>
<text class="t" x="1048.2" y="769" text-anchor="middle" style="" direction="rtl" textLength="50.1" lengthAdjust="spacingAndGlyphs">22 شهریور</text>
<text class="t" x="1135.2" y="769" text-anchor="middle" style="" direction="rtl" textLength="49.9" lengthAdjust="spacingAndGlyphs">30 شهریور</text>
<text class="t" x="1251.2" y="769" text-anchor="middle" style="font-weight:bold;" direction="rtl" textLength="17.5" lengthAdjust="spacingAndGlyphs">مهر</text>
<text class="t" x="1338.2" y="769" text-anchor="middle" style="" direction="rtl" textLength="33.3" lengthAdjust="spacingAndGlyphs">19 مهر</text>
<text class="t" x="1425.2" y="769" text-anchor="middle" style="" direction="rtl" textLength="33.8" lengthAdjust="spacingAndGlyphs">27 مهر</text>
<text class="t" x="1556.2" y="769" text-anchor="middle" style="font-weight:bold;" direction="rtl" textLength="18.7" lengthAdjust="spacingAndGlyphs">آبان</text>
<text class="t" x="1643.2" y="769" text-anchor="middle" style="" direction="rtl" textLength="35.1" lengthAdjust="spacingAndGlyphs">18 آبان</text>
</g>
<text class="t" x="18.2" y="28" style="fill:#131722;stroke:#131722;stroke-width:0.15px;font-size:11.6px" textLength="60.0" lengthAdjust="spacingAndGlyphs">قثابت, بورس</text>
<text class="t" x="86.4" y="28" style="fill:#131722;stroke:#131722;stroke-width:0.15px;font-size:11.6px" textLength="11.1" lengthAdjust="spacingAndGlyphs">باز</text>
<text class="t" x="97.5" y="28" style="fill:#f23645;stroke:#f23645;stroke-width:0.15px;font-size:11.6px" textLength="28.3" lengthAdjust="spacingAndGlyphs">2,034</text>
<text class="t" x="133.4" y="28" style="fill:#131722;stroke:#131722;stroke-width:0.15px;font-size:11.6px" textLength="40.8" lengthAdjust="spacingAndGlyphs">بیشترین</text>
<text class="t" x="174.4" y="28" style="fill:#f23645;stroke:#f23645;stroke-width:0.15px;font-size:11.6px" textLength="28.4" lengthAdjust="spacingAndGlyphs">2,034</text>
<text class="t" x="210.6" y="28" style="fill:#131722;stroke:#131722;stroke-width:0.15px;font-size:11.6px" textLength="34.4" lengthAdjust="spacingAndGlyphs">کمترین</text>
<text class="t" x="245.2" y="28" style="fill:#f23645;stroke:#f23645;stroke-width:0.15px;font-size:11.6px" textLength="28.4" lengthAdjust="spacingAndGlyphs">1,984</text>
<text class="t" x="281.5" y="28" style="fill:#131722;stroke:#131722;stroke-width:0.15px;font-size:11.6px" textLength="29.7" lengthAdjust="spacingAndGlyphs">آخرین</text>
<text class="t" x="311.5" y="28" style="fill:#f23645;stroke:#f23645;stroke-width:0.15px;font-size:11.6px" textLength="28.2" lengthAdjust="spacingAndGlyphs">1,988</text>
<text class="t" x="18.1" y="45" style="fill:#131722;stroke:#131722;stroke-width:0.15px;font-size:11.6px" textLength="24.0" lengthAdjust="spacingAndGlyphs">حجم</text>
<text class="t" x="50" y="45" style="fill:#f7525f;stroke:#f7525f;stroke-width:0.15px;font-size:11.6px" textLength="47.2" lengthAdjust="spacingAndGlyphs">35.848M</text>
<text class="t" x="18.6" y="62" style="fill:#131722;stroke:#131722;stroke-width:0.15px;font-size:11.6px" textLength="17.4" lengthAdjust="spacingAndGlyphs">MA</text>
<text class="t" x="44" y="62" style="fill:#2196f3;stroke:#2196f3;stroke-width:0.15px;font-size:11.6px" textLength="28.5" lengthAdjust="spacingAndGlyphs">1,714</text>
<text class="t" x="18.6" y="79" style="fill:#131722;stroke:#131722;stroke-width:0.15px;font-size:11.6px" textLength="48.1" lengthAdjust="spacingAndGlyphs">Ichimoku</text>
<text class="t" x="74.8" y="79" style="fill:#a5d6a7;stroke:#a5d6a7;stroke-width:0.15px;font-size:11.6px" textLength="28.4" lengthAdjust="spacingAndGlyphs">1,819</text>
<text class="t" x="110.9" y="79" style="fill:#f4a3a3;stroke:#f4a3a3;stroke-width:0.15px;font-size:11.6px" textLength="28.3" lengthAdjust="spacingAndGlyphs">1,721</text>
<rect x="10" y="10" width="1737" height="770" fill="none" stroke="#eceef2" stroke-width="2"/>
</svg></body></html>
